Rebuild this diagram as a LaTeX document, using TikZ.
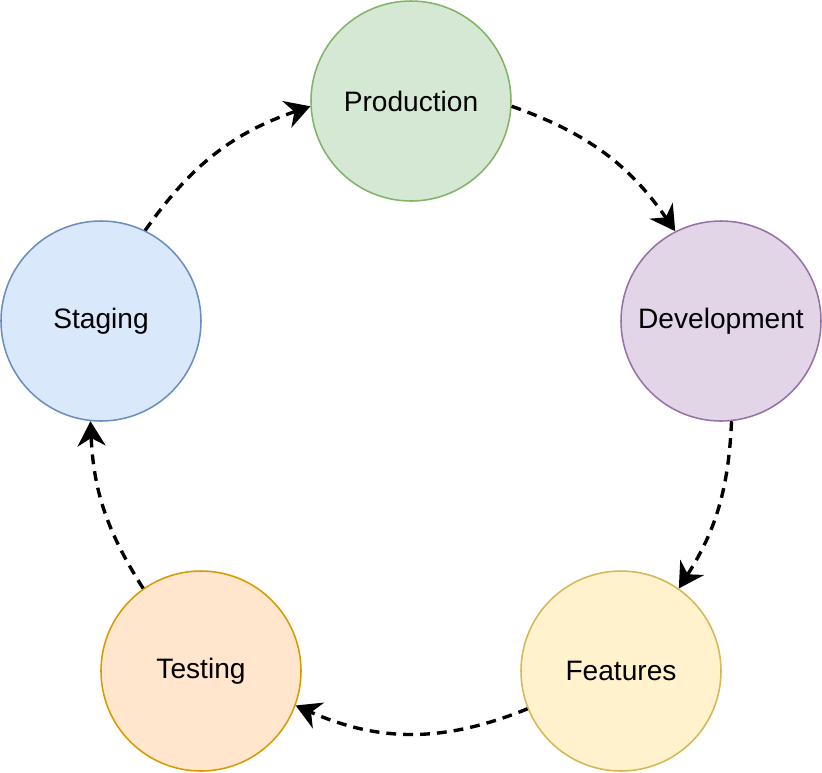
\documentclass[tikz,border=0pt]{standalone}
\usepackage{fontspec}
\setmainfont{Liberation Sans}
\usepackage{xcolor}
\usetikzlibrary{arrows.meta}

\definecolor{prodfill}{HTML}{D5E8D4}\definecolor{prodline}{HTML}{82B366}
\definecolor{devfill}{HTML}{E1D5E7}\definecolor{devline}{HTML}{9673A6}
\definecolor{featfill}{HTML}{FFF2CC}\definecolor{featline}{HTML}{D6B656}
\definecolor{testfill}{HTML}{FFE6CC}\definecolor{testline}{HTML}{D79B00}
\definecolor{stagfill}{HTML}{DAE8FC}\definecolor{stagline}{HTML}{6C8EBF}

\begin{document}
\begin{tikzpicture}[
  stage/.style={circle, draw, line width=1.1pt, minimum size=5cm, inner sep=0pt, font=\fontsize{20}{24}\selectfont},
  arr/.style={-{Stealth[length=6.2mm, width=7mm, inset=2mm]}, line width=2.4pt, dash pattern=on 7pt off 5pt}
]
\useasboundingbox (0,0) rectangle (20.55,-19.3);
\node[stage, fill=prodfill, draw=prodline] (prod) at (10.275,-2.525) {Production};
\node[stage, fill=devfill, draw=devline] (dev) at (18.025,-8.025) {Development};
\node[stage, fill=featfill, draw=featline] (feat) at (15.525,-16.775) {Features};
\node[stage, fill=testfill, draw=testline] (test) at (5.025,-16.775) {Testing};
\node[stage, fill=stagfill, draw=stagline] (stag) at (2.525,-8.025) {Staging};
\draw[arr] (prod.-3) to[bend left=18] (dev.117);
\draw[arr] (dev.-84) to[bend left=15] (feat.55);
\draw[arr] (feat.202) to[bend left=23] (test.-20);
\draw[arr] (test.125) to[bend left=15] (stag.264);
\draw[arr] (stag.64) to[bend left=18] (prod.183);
\end{tikzpicture}
\end{document}
